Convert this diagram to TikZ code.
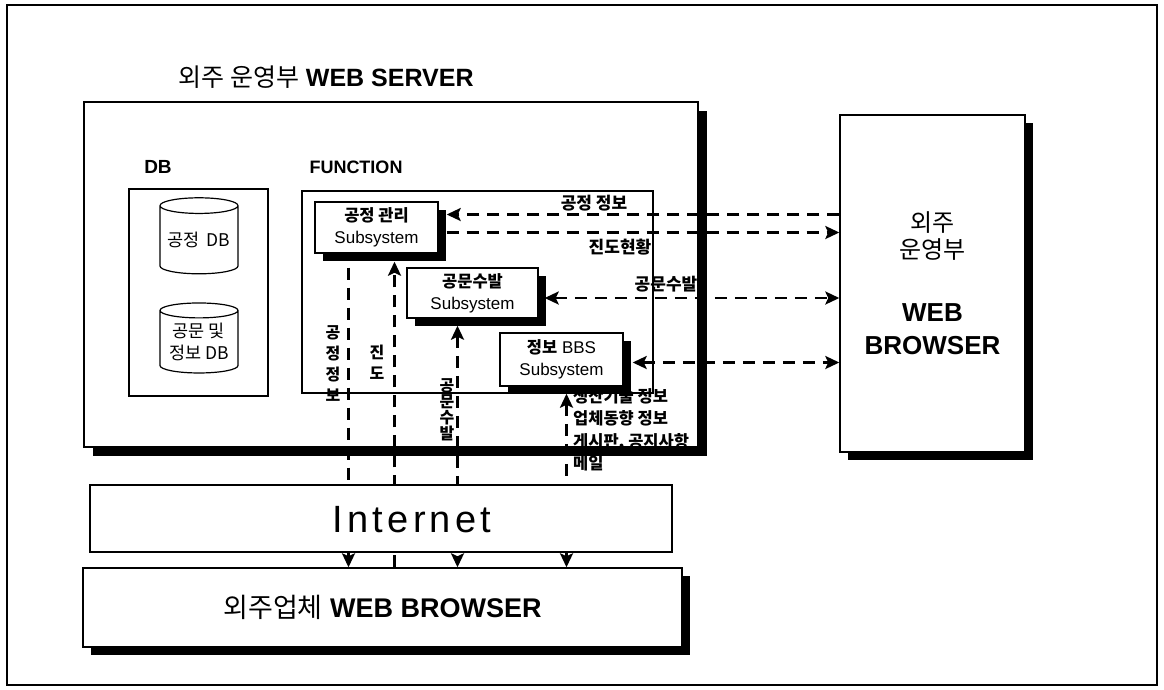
\documentclass[tikz,border=0pt]{standalone}
\usepackage{fontspec}
\setmainfont{Liberation Sans}
\newfontfamily\kr{Noto Sans CJK KR}
\usetikzlibrary{shapes.geometric,arrows.meta,shadows,positioning,calc}

\begin{document}
\begin{tikzpicture}[x=1pt,y=-1pt,
    box/.style={rectangle,draw,line width=1.4pt,fill=white,inner sep=0pt,align=center},
    shd/.style={drop shadow={shadow xshift=#1,shadow yshift=-#1,fill=black,opacity=1}},
    cyl/.style={cylinder,shape border rotate=90,aspect=0.25,draw,line width=1.2pt,fill=white,inner sep=0pt,align=center,font=\kr\fontsize{17.5}{22}\selectfont},
    sub/.style={box,shd=8pt,font=\fontsize{17}{22}\selectfont},
    lbl/.style={font=\kr\bfseries\fontsize{17}{20}\selectfont,inner sep=0pt},
    darr/.style={line width=2.6pt,dash pattern=on 12pt off 8pt,-{Stealth[length=14pt,width=13pt,inset=3pt]}},
    bdarr/.style={darr,{Stealth[length=14pt,width=13pt,inset=3pt]}-{Stealth[length=14pt,width=13pt,inset=3pt]}},
]
\useasboundingbox (0,0) rectangle (1164,689);
\node[draw,line width=1.2pt,minimum width=1150,minimum height=680,inner sep=0pt] (frame) at (582,345) {};

% Server
\node[box,shd=9pt,minimum width=614,minimum height=345] (srv) at (391,274.5) {};
\node[font=\fontsize{25}{30}\selectfont] (title) at (326,77) {{\kr 외주 운영부} \textbf{WEB SERVER}};
\node[font=\bfseries\fontsize{19}{22}\selectfont] (dbl) at (158,167) {DB};
\node[font=\bfseries\fontsize{18}{22}\selectfont] (fnl) at (356,167) {FUNCTION};

% DB
\node[box,minimum width=139,minimum height=207] (db) at (198.5,292.5) {};
\node[cyl,minimum width=78,minimum height=76] (cyl1) at (199,240) {공정 \,DB};
\node[cyl,minimum width=78,minimum height=70] (cyl2) at (199,342) {공문 및\\정보 DB};

% Function
\node[box,line width=1.2pt,minimum width=351,minimum height=202] (fn) at (477.5,292) {};
\node[sub,minimum width=123,minimum height=51] (sub1) at (376.5,227.5) {{\kr\bfseries\fontsize{16.5}{22}\selectfont 공정 관리}\\Subsystem};
\node[sub,minimum width=131,minimum height=50] (sub2) at (472.5,293) {{\kr\bfseries\fontsize{16.5}{22}\selectfont 공문수발}\\Subsystem};
\node[sub,minimum width=123,minimum height=53] (sub3) at (561.5,359.5) {{\kr\bfseries\fontsize{16.5}{22}\selectfont 정보} BBS\\Subsystem};

% Browsers
\node[box,shd=8pt,minimum width=185,minimum height=337,font=\fontsize{24}{27}\selectfont] (wb) at (932.5,283.5)
    {{\kr 외주}\\{\kr 운영부}\\[36pt]{\bfseries\fontsize{26}{30}\selectfont WEB}\\[6pt]{\bfseries\fontsize{26}{30}\selectfont BROWSER}};
\node[box,shd=8pt,minimum width=599,minimum height=79,font=\fontsize{27}{30}\selectfont] (low) at (382.5,607.5)
    {{\kr 외주업체} \textbf{WEB BROWSER}};

% Connections
\coordinate (h1) at ([shift={(8pt,13pt)}]sub1.east);
\coordinate (h2) at ([shift={(8pt,-5pt)}]sub1.east);
\coordinate (h3) at ([shift={(6pt,-5pt)}]sub2.east);
\coordinate (h4) at ([shift={(9pt,-3pt)}]sub3.east);
\draw[darr] (h1 -| wb.west) -- (h1);
\draw[darr] (h2) -- (h2 -| wb.west);
\draw[bdarr] (h3) -- (h3 -| wb.west);
\draw[bdarr] (h4) -- (h4 -| wb.west);

\coordinate (v1) at ([shift={(-28pt,-14pt)}]sub1.south);
\coordinate (v2) at ([shift={(18pt,-8pt)}]sub1.south);
\coordinate (v3) at ([shift={(-15pt,-7pt)}]sub2.south);
\coordinate (v4) at ([shift={(5pt,-7pt)}]sub3.south);
\draw[darr] (v1) -- (v1 |- low.north);
\draw[darr] (v2 |- low.north) -- (v2);
\draw[bdarr] (v3) -- (v3 |- low.north);
\draw[bdarr] (v4) -- (v4 |- low.north);

\node[box,line width=1.2pt,minimum width=582,minimum height=67] (inet) at (381,518.5) {};
\node[font=\fontsize{38}{40}\selectfont\addfontfeatures{LetterSpace=11}] (inl) at (412,520) {Internet};

% Labels
\node[lbl] (l1) at (594,203) {공정 정보};
\node[lbl] (l2) at (620,247) {진도현황};
\node[lbl] (l3) at (666,284) {공문수발};
\node[lbl,align=center,font=\kr\bfseries\fontsize{16}{21}\selectfont] (vl1) at (333,364) {공\\정\\정\\보};
\node[lbl,align=center,font=\kr\bfseries\fontsize{16}{21}\selectfont] (vl2) at (377,362) {진\\도};
\node[lbl,align=center,font=\kr\bfseries\fontsize{16}{16}\selectfont] (vl3) at (447,410) {공\\문\\수\\발};
\node[lbl,align=left,anchor=north west,font=\kr\bfseries\fontsize{16.5}{22.5}\selectfont] (bbsl) at (573,388)
    {생산기술 정보\\업체동향 정보\\게시판, 공지사항\\메일};
\end{tikzpicture}
\end{document}
